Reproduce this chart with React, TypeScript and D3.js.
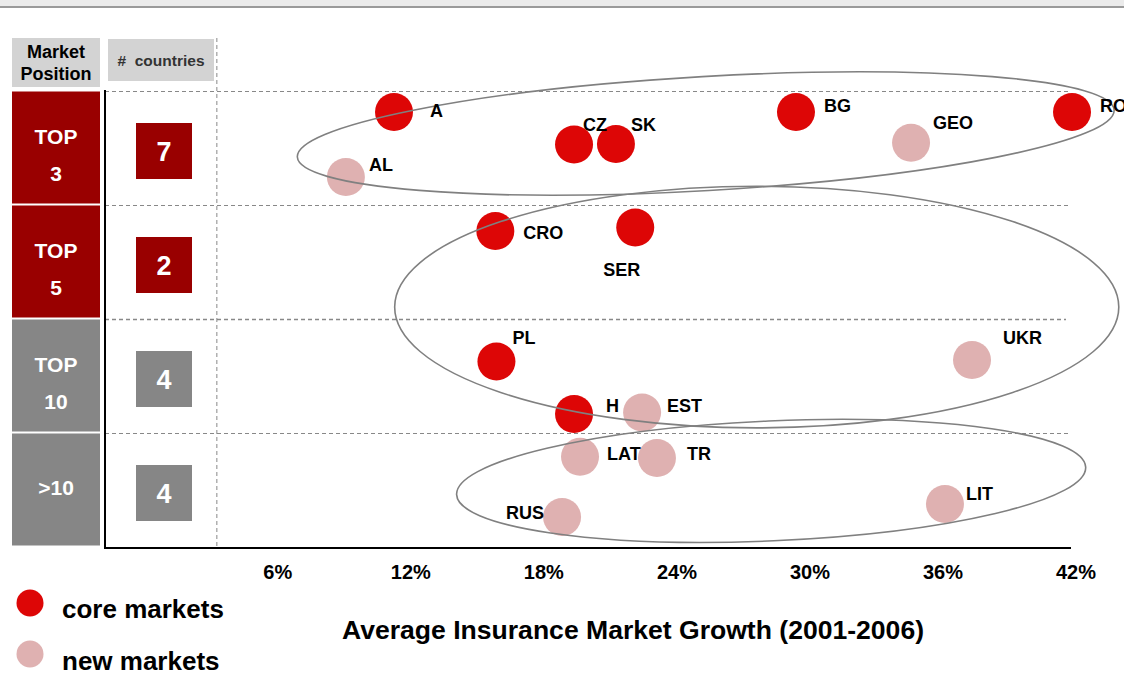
import React from "react";
import * as d3 from "d3";

// ---------- data ----------
const positions = ["TOP 3", "TOP 5", "TOP 10", ">10"];
const positionLines = [["TOP", "3"], ["TOP", "5"], ["TOP", "10"], [">10"]];
const countryCounts = [7, 2, 4, 4];

const countries = ["A", "CZ", "SK", "BG", "GEO", "RO", "AL", "CRO", "SER", "PL", "UKR", "H", "EST", "LAT", "TR", "RUS", "LIT"];
const growth = [11.24, 19.36, 21.25, 29.37, 34.56, 41.82, 9.07, 15.81, 22.12, 15.86, 37.31, 19.36, 22.43, 19.63, 23.1, 18.82, 36.09];
const marketPosition = ["TOP 3", "TOP 3", "TOP 3", "TOP 3", "TOP 3", "TOP 3", "TOP 3", "TOP 5", "TOP 5", "TOP 10", "TOP 10", "TOP 10", "TOP 10", ">10", ">10", ">10", ">10"];
const offsetInRow = [0.184, 0.469, 0.465, 0.184, 0.454, 0.184, 0.754, 0.228, 0.197, 0.373, 0.36, 0.833, 0.82, 0.208, 0.219, 0.737, 0.623];
const marketType = ["core", "core", "core", "core", "new", "core", "new", "core", "core", "core", "new", "core", "new", "new", "new", "new", "new"];

const xTicks = [6, 12, 18, 24, 30, 36, 42];
const dividerGrowth = 3.25;

// cluster ellipses (growth %, row units)
const clusterCx = [25.3, 27.6, 28.25];
const clusterCy = [0.373, 1.895, 3.42];
const clusterRx = [18.45, 16.33, 14.2];
const clusterRy = [0.5, 1.06, 0.526];
const clusterAngle = [-3.3, 0, -2.5];

// label layout (px offsets from the point)
const labelOffset: Record<string, [number, number]> = {
  A: [36, -1.5], CZ: [9, -20], SK: [15, -20], BG: [28, -6.5], GEO: [22, -20], RO: [28, -6],
  AL: [23, -12], CRO: [28, 2], SER: [-32, 42], PL: [16, -24.5], UKR: [31, -23], H: [32, -8],
  EST: [25, -6.5], LAT: [27, -3], TR: [30, -4], RUS: [-56, -5], LIT: [21, -11],
};

const FONT = "'Liberation Sans', Arial, Helvetica, sans-serif";
const CORE = "#dd0606";
const NEW = "#dfb1b1";
const DARKRED = "#990000";
const GREY = "#868686";

export default function App() {
  const W = 1124, H = 674;
  const x = d3.scaleLinear().domain([0, 42]).range([144.8, 1076]);
  const yRow = d3.scaleBand<string>().domain(positions).range([91, 547]);
  const yCont = d3.scaleLinear().domain([0, 4]).range([91, 547]);
  const bw = yRow.bandwidth();
  const pxPerPct = x(1) - x(0);
  const pxPerRow = yCont(1) - yCont(0);

  const points = countries.map((c, i) => ({
    name: c,
    cx: x(growth[i]),
    cy: (yRow(marketPosition[i]) as number) + offsetInRow[i] * bw,
    type: marketType[i],
  }));

  const axisLeft = 105, axisRight = 1071, axisBottom = 548;

  return (
    <svg width={W} height={H} style={{ position: "absolute", left: 0, top: 0 }} fontFamily={FONT}>
      <rect x={0} y={0} width={W} height={H} fill="#fff" />
      <rect x={0} y={0} width={W} height={6} fill="#ebebeb" />
      <rect x={0} y={6} width={W} height={2} fill="#9a9a9a" />

      {/* headers */}
      <rect x={12} y={38} width={88} height={49} fill="#d3d3d3" />
      <text x={56} y={58} textAnchor="middle" fontSize={18} fontWeight="bold" fill="#000">Market</text>
      <text x={56} y={80} textAnchor="middle" fontSize={18} fontWeight="bold" fill="#000">Position</text>
      <rect x={108} y={39} width={106} height={42} fill="#d3d3d3" />
      <text x={161} y={66} textAnchor="middle" fontSize={15.5} fontWeight="bold" fill="#333" style={{ whiteSpace: "pre" }}>{"#  countries"}</text>

      {/* row boxes */}
      {positions.map((p, i) => {
        const y0 = yRow(p) as number;
        const fill = i < 2 ? DARKRED : GREY;
        const lines = positionLines[i];
        const cyRow = y0 + bw / 2;
        return (
          <g key={p}>
            <rect x={12} y={y0 + 0.5} width={88} height={bw - 2} fill={fill} />
            {lines.length === 2 ? (
              <>
                <text x={56} y={cyRow - 4.5} textAnchor="middle" fontSize={21} fontWeight="bold" fill="#fff">{lines[0]}</text>
                <text x={56} y={cyRow + 33} textAnchor="middle" fontSize={21} fontWeight="bold" fill="#fff">{lines[1]}</text>
              </>
            ) : (
              <text x={56} y={cyRow + 4.5} textAnchor="middle" fontSize={21} fontWeight="bold" fill="#fff">{lines[0]}</text>
            )}
            <rect x={136} y={cyRow - 25} width={56} height={56} fill={fill} />
            <text x={164} y={cyRow + 12.5} textAnchor="middle" fontSize={27} fontWeight="bold" fill="#fff">{countryCounts[i]}</text>
          </g>
        );
      })}

      {/* grid */}
      {positions.map((p, i) => (
        <line key={"g" + p} x1={axisLeft} x2={i === 2 ? 1066 : 1071} y1={(yRow(p) as number) + 0.5} y2={(yRow(p) as number) + 0.5}
          stroke="#888" strokeWidth={i === 2 ? 1.6 : 1} strokeDasharray="4,3" />
      ))}
      <line x1={x(dividerGrowth)} x2={x(dividerGrowth)} y1={38} y2={axisBottom} stroke="#888" strokeWidth={1} strokeDasharray="4,3" />

      {/* axes */}
      <line x1={axisLeft} x2={axisLeft} y1={90} y2={axisBottom + 1} stroke="#000" strokeWidth={2} />
      <line x1={axisLeft} x2={axisRight} y1={axisBottom} y2={axisBottom} stroke="#000" strokeWidth={2} />
      {xTicks.map((t) => (
        <text key={t} x={x(t)} y={579} textAnchor="middle" fontSize={20} fontWeight="bold" fill="#000">{t}%</text>
      ))}
      <text x={342} y={639} fontSize={25} fontWeight="bold" fill="#000" textLength={582} lengthAdjust="spacingAndGlyphs">
        Average Insurance Market Growth (2001-2006)
      </text>

      {/* points */}
      {points.map((p) => (
        <circle key={p.name} cx={p.cx} cy={p.cy} r={19} fill={p.type === "core" ? CORE : NEW} />
      ))}

      {/* cluster ellipses */}
      {clusterCx.map((c, i) => (
        <ellipse key={"e" + i} cx={0} cy={0} rx={clusterRx[i] * pxPerPct} ry={clusterRy[i] * pxPerRow}
          transform={`translate(${x(c)},${yCont(clusterCy[i])}) rotate(${clusterAngle[i]})`}
          fill="none" stroke="#808080" strokeWidth={1.6} />
      ))}

      {/* labels */}
      {points.map((p) => {
        const [dx, dy] = labelOffset[p.name];
        return (
          <text key={"l" + p.name} x={p.cx + dx} y={p.cy + dy + 6.5} fontSize={18} fontWeight="bold" fill="#000">{p.name}</text>
        );
      })}

      {/* legend */}
      <circle cx={30} cy={603} r={13.5} fill={CORE} />
      <text x={62} y={618} fontSize={26} fontWeight="bold" fill="#000">core markets</text>
      <circle cx={30} cy={654} r={13.5} fill={NEW} />
      <text x={62} y={670} fontSize={26} fontWeight="bold" fill="#000">new markets</text>
    </svg>
  );
}
